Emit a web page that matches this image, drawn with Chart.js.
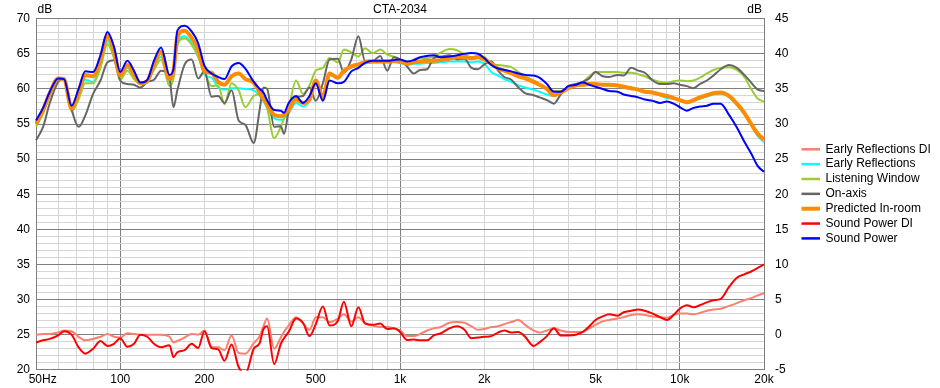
<!DOCTYPE html>
<html><head><meta charset="utf-8">
<style>html,body{margin:0;padding:0;background:#fff;overflow:hidden;} canvas{display:block;}</style>
<script src="https://cdn.jsdelivr.net/npm/chart.js@4.4.0/dist/chart.umd.min.js"></script>
</head><body>
<canvas id="c" width="940" height="388"></canvas>
<script>
const titleText = 'CTA-2034';
const frequencies = [50,53,56,60,63,67,71,75,80,85,
 90,95,100,106,112,118,125,132,140,150,
 155,160,170,180,190,200,212,224,236,250,
 265,280,300,315,325,335,355,375,385,400,
 425,450,475,500,530,560,600,630,670,710,
 750,800,850,900,950,1000,1060,1120,1180,1250,
 1320,1400,1500,1600,1700,1800,1900,2000,2120,2240,
 2360,2500,2650,2800,3000,3150,3350,3550,3750,4000,
 4250,4500,4750,5000,5300,5600,6000,6300,6700,7100,
 7500,8000,8500,9000,9500,10000,10600,11200,11800,12500,
 13200,14000,15000,16000,17000,18000,19000,20000];

const earlyReflectionsDI = [0.0,0.1,0.1,0.3,0.6,0.5,-0.3,-0.8,-0.6,-0.3,
 0.1,-0.3,-0.4,0.2,0.1,0.0,0.0,0.0,0.0,-0.3,
 -1.1,-0.9,-0.4,0.1,0.0,0.6,-1.7,-1.8,-2.2,-0.1,
 -2.6,-2.7,-1.2,-0.2,1.2,2.3,-2.0,-0.4,0.4,1.3,
 2.5,1.6,0.7,2.5,2.5,1.8,2.3,2.9,1.9,2.5,
 1.6,1.3,1.1,1.1,0.9,0.6,-0.2,-0.2,0.1,0.6,
 0.9,1.1,1.7,1.8,1.7,1.2,0.7,0.8,1.1,1.2,
 1.5,1.8,2.1,1.4,0.6,0.3,0.6,0.9,0.6,0.4,
 0.4,0.4,0.9,1.4,1.9,2.1,2.3,2.5,2.8,2.9,
 2.8,2.6,2.5,2.4,2.8,3.0,3.0,2.9,3.1,3.4,
 3.6,3.7,4.1,4.5,4.9,5.2,5.6,5.9];

const earlyReflections = [54.9,56.8,59.3,61.5,61.3,56.9,59.0,61.3,61.0,63.5,
 66.9,64.9,61.7,63.0,61.8,60.8,61.1,63.1,64.6,60.9,
 62.0,66.6,67.5,66.6,64.9,62.0,61.6,60.2,59.9,60.1,
 60.1,60.0,59.8,59.0,58.3,57.3,55.8,55.6,55.8,56.5,
 58.0,57.5,58.3,61.0,58.5,62.0,61.5,62.4,63.0,63.4,
 63.6,63.8,63.8,63.8,63.8,63.7,63.4,63.6,63.6,63.7,
 63.7,63.8,63.9,63.9,63.9,63.8,63.9,63.6,62.4,61.9,
 61.4,61.0,60.5,60.2,59.9,59.6,59.2,59.0,59.5,60.1,
 60.4,60.5,60.6,60.6,60.6,60.5,60.4,60.2,60.0,59.8,
 59.5,59.4,59.1,58.7,58.6,58.4,58.1,58.3,58.6,58.9,
 59.2,59.3,58.8,57.7,56.4,54.8,53.3,52.4];

const listeningWindow = [54.6,56.5,59.1,61.4,61.3,56.8,58.5,60.8,60.8,63.0,
 66.4,64.4,61.3,62.6,61.4,60.7,61.1,62.7,64.2,60.4,
 61.5,66.2,67.2,66.3,64.5,62.5,60.4,60.5,57.8,60.8,
 59.8,57.4,59.0,59.2,59.0,57.3,53.0,54.6,55.8,57.3,
 61.2,59.3,60.5,62.6,63.0,64.4,63.8,65.6,65.2,64.6,
 65.8,65.1,65.6,64.9,64.6,64.1,63.6,64.2,64.4,64.4,
 64.6,65.2,65.7,65.5,64.9,64.5,64.7,64.6,63.5,63.4,
 63.3,63.1,62.4,61.8,61.2,60.7,60.0,59.7,59.7,60.2,
 60.6,61.0,61.8,62.4,62.4,62.4,62.4,62.3,62.3,62.1,
 61.8,61.3,61.0,60.9,61.1,61.2,61.1,61.2,61.6,62.2,
 62.7,63.0,63.1,62.7,61.7,60.0,58.6,58.2];

const onAxis = [52.7,54.6,58.0,61.0,61.5,57.1,54.6,56.2,59.3,61.2,
 63.8,64.1,61.2,60.7,60.6,60.2,61.0,61.3,62.6,61.5,
 57.4,59.8,63.5,64.2,61.5,62.5,58.9,59.0,58.0,59.8,
 55.5,54.9,52.3,57.0,60.2,60.0,54.6,54.7,53.6,56.8,
 58.8,59.0,60.2,58.3,60.8,64.2,64.3,62.3,64.2,67.5,
 64.0,64.0,64.7,62.6,64.5,64.2,63.2,62.2,62.7,62.8,
 64.4,64.6,64.8,64.2,64.3,63.0,62.8,63.5,63.9,62.6,
 61.7,61.3,60.2,59.4,59.1,58.8,58.4,57.9,59.2,60.4,
 60.7,61.0,61.5,62.4,61.8,61.7,62.0,61.9,63.0,62.6,
 62.3,61.2,60.7,60.7,60.8,60.6,60.4,60.1,60.7,61.2,
 61.9,62.8,63.4,63.0,62.0,60.9,59.9,59.7];

const predictedInRoom = [55.0,57.0,59.4,61.5,61.4,57.2,59.5,62.0,61.8,64.2,
 67.6,65.4,61.9,63.4,62.1,60.8,61.1,63.5,65.3,61.4,
 62.5,67.4,68.3,67.3,65.6,62.5,62.3,61.0,60.6,61.8,
 62.2,61.4,60.9,59.5,58.6,57.8,56.3,56.1,56.3,57.0,
 58.5,58.0,58.5,61.2,58.8,62.2,61.6,62.6,63.2,63.5,
 63.8,63.9,63.9,63.9,64.0,63.9,63.6,63.8,63.9,64.0,
 64.0,64.1,64.3,64.5,64.5,64.4,64.5,64.2,63.6,62.9,
 62.6,62.2,61.8,61.5,61.0,60.6,60.0,59.1,59.5,60.1,
 60.5,60.6,60.7,60.7,60.6,60.6,60.5,60.3,60.1,59.9,
 59.6,59.5,59.2,59.0,58.7,58.4,58.1,58.4,58.8,59.1,
 59.4,59.5,59.0,57.9,56.6,55.0,53.6,52.8];

const soundPowerDI = [-1.1,-0.8,-0.6,-0.1,0.5,0.0,-1.8,-2.7,-2.0,-0.9,
 -1.6,-1.3,-0.5,-1.7,-1.3,0.0,-0.3,-1.3,-1.8,-1.5,
 -3.2,-2.5,-2.2,-1.3,-1.9,0.5,-1.9,-2.1,-3.7,-1.4,
 -4.6,-5.6,-2.0,-1.2,0.8,1.2,-4.2,-1.3,-0.5,0.4,
 2.3,1.7,-0.2,1.5,4.0,1.3,2.0,4.7,1.2,3.9,
 1.6,1.4,1.6,0.8,0.9,0.4,-0.75,-0.7,-0.8,-0.8,
 -0.1,0.2,0.9,1.2,0.7,-0.5,-0.4,-0.3,-0.2,0.3,
 0.6,0.3,0.4,-0.3,-1.6,-1.1,-0.2,0.9,-0.1,-0.1,
 0.0,0.4,1.2,2.1,2.6,2.9,2.7,3.2,3.4,3.6,
 3.4,3.0,2.5,2.1,2.8,3.7,4.2,3.9,4.2,4.6,
 4.9,5.1,6.8,8.1,8.6,9.0,9.5,10.0];

const soundPower = [55.5,57.3,59.6,61.5,61.4,57.6,60.0,62.5,62.4,64.8,
 68.1,66.0,62.4,64.0,62.6,60.9,61.3,64.0,65.9,62.0,
 62.8,68.3,69.0,68.2,66.5,63.3,62.2,61.7,61.4,63.2,
 63.7,62.9,61.0,60.0,59.5,58.4,57.0,56.9,56.6,58.0,
 59.0,58.0,59.0,60.8,58.3,61.2,60.8,61.0,62.5,63.0,
 63.7,64.0,64.0,64.0,64.1,64.2,63.9,64.1,64.5,64.7,
 64.8,64.5,64.6,64.8,65.0,65.1,65.0,64.4,63.4,62.9,
 62.7,62.5,62.2,62.0,61.9,61.6,60.7,59.6,59.6,60.4,
 60.6,60.9,60.6,60.3,60.0,59.7,59.6,59.2,59.0,58.8,
 58.5,58.3,58.0,58.2,57.9,57.4,56.9,57.3,57.5,57.6,
 57.9,57.9,56.3,54.5,52.5,50.8,49.0,48.2];

const xGridTicks = [50,60,70,80,90,100,200,300,400,500,600,700,800,900,
 1000,2000,3000,4000,5000,6000,7000,8000,9000,10000,20000];
const xTickLabels = {50:'    50Hz',100:'100',200:'200',500:'500',1000:'1k',2000:'2k',5000:'5k',10000:'10k',20000:'20k'};
const xMajor = [50,100,1000,10000,20000];

const FONT = "'Liberation Sans', Arial, sans-serif";
const DARK = '#7f7f7f';
const LIGHT = '#d6d6d6';

const series = [
  {label:'Early Reflections DI', values: earlyReflectionsDI, color:'rgb(250,128,114)', width:2, axis:'y2'},
  {label:'Early Reflections', values: earlyReflections, color:'#00ffff', width:2, axis:'y'},
  {label:'Listening Window', values: listeningWindow, color:'#9acd32', width:2, axis:'y'},
  {label:'On-axis', values: onAxis, color:'#666666', width:2, axis:'y'},
  {label:'Predicted In-room', values: predictedInRoom, color:'#ff8c00', width:4, axis:'y'},
  {label:'Sound Power DI', values: soundPowerDI, color:'#ff0000', width:2, axis:'y2'},
  {label:'Sound Power', values: soundPower, color:'#0000ff', width:2, axis:'y'}
];

const datasets = series.map((s, i) => ({
  label: s.label,
  data: frequencies.map((f, k) => ({x: f, y: s.values[k]})),
  borderColor: s.color,
  backgroundColor: s.color,
  borderWidth: s.width,
  yAxisID: s.axis,
  pointRadius: 0,
  cubicInterpolationMode: 'monotone',
  fill: false,
  order: series.length - i,
  clip: 1
}));

const textPlugin = {
  id: 'textPlugin',
  afterDraw(chart) {
    const ctx = chart.ctx, ca = chart.chartArea;
    ctx.save();
    ctx.font = '12px ' + FONT;
    ctx.fillStyle = '#000';
    ctx.textBaseline = 'middle';
    ctx.textAlign = 'center';
    ctx.fillText(titleText, (ca.left + ca.right) / 2, 9.5);
    ctx.textAlign = 'left';
    ctx.fillText('dB', ca.left + 1.5, 10);
    ctx.textAlign = 'right';
    ctx.fillText('dB', ca.right - 2, 10);
    // legend
    const lx = 801.5, ly = 149.3, step = 14.85;
    series.forEach((s, i) => {
      const y = ly + i * step;
      ctx.beginPath();
      ctx.strokeStyle = s.color;
      ctx.lineWidth = s.width === 4 ? 4 : 2.5;
      ctx.moveTo(lx, y);
      ctx.lineTo(lx + 18.5, y);
      ctx.stroke();
      ctx.textAlign = 'left';
      ctx.fillStyle = '#000';
      ctx.fillText(s.label, 825.5, y);
    });
    ctx.restore();
  }
};

new Chart(document.getElementById('c'), {
  type: 'line',
  data: { datasets },
  options: {
    responsive: false,
    animation: false,
    devicePixelRatio: 1,
    parsing: true,
    layout: { padding: { top: 18.7, left: 0, right: 140, bottom: 0 } },
    plugins: { legend: { display: false }, tooltip: { enabled: false }, title: { display: false } },
    scales: {
      x: {
        type: 'logarithmic', position: 'bottom', min: 50, max: 20000,
        afterBuildTicks: (s) => { s.ticks = xGridTicks.map(v => ({ value: v })); },
        afterFit: (s) => { s.height = 14.3; },
        ticks: {
          autoSkip: false, maxRotation: 0, minRotation: 0, padding: 3, color: '#000',
          font: { family: FONT, size: 12 },
          callback: (v) => (xTickLabels[v] !== undefined ? xTickLabels[v] : '')
        },
        grid: { drawTicks: false, lineWidth: 1, color: (c) => (c.tick && xMajor.includes(c.tick.value) ? DARK : LIGHT) },
        border: { color: DARK }
      },
      y: {
        position: 'left', min: 20, max: 70,
        afterFit: (s) => { s.width = 36; },
        ticks: {
          stepSize: 1, autoSkip: false, padding: 6, color: '#000',
          font: { family: FONT, size: 12 },
          callback: (v) => (Math.round(v) % 5 === 0 ? String(Math.round(v)) : '')
        },
        grid: { drawTicks: false, lineWidth: 1, color: (c) => (c.tick && Math.round(c.tick.value) % 5 === 0 ? DARK : LIGHT) },
        border: { color: DARK }
      },
      y2: {
        position: 'right', min: -5, max: 45,
        afterFit: (s) => { s.width = 36; },
        ticks: { stepSize: 5, autoSkip: false, padding: 11, color: '#000', font: { family: FONT, size: 12 } },
        grid: { drawOnChartArea: false, drawTicks: false },
        border: { color: DARK }
      }
    }
  },
  plugins: [textPlugin]
});
</script>
</body></html>
